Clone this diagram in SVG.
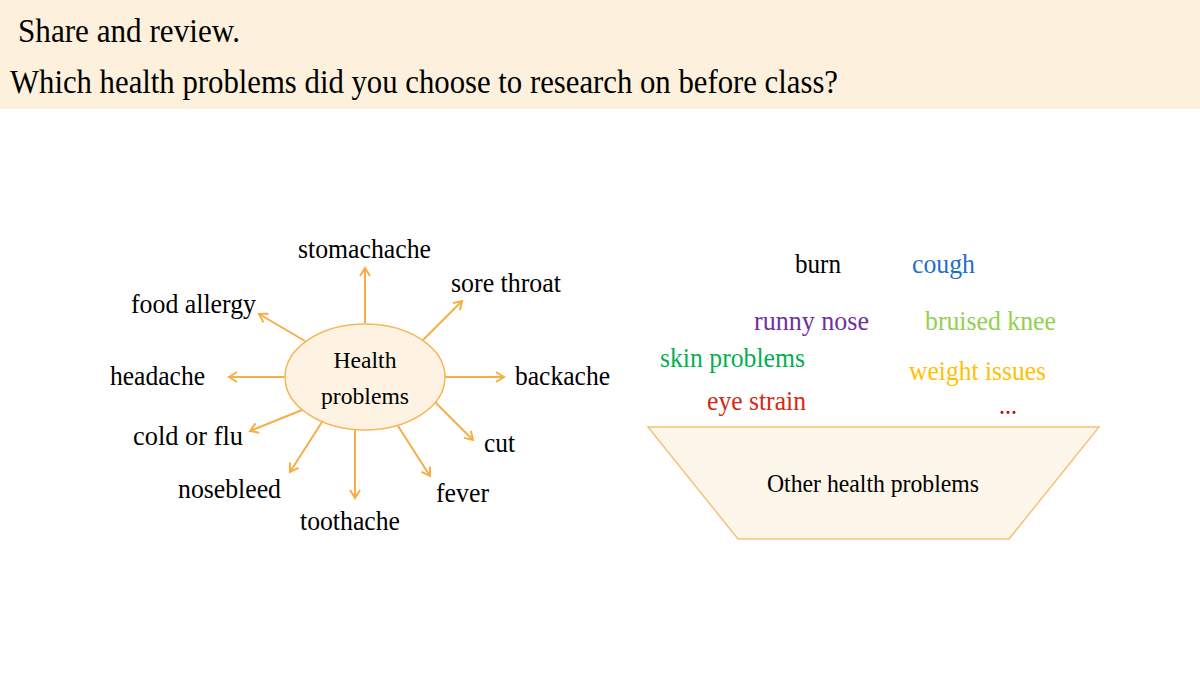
<svg xmlns="http://www.w3.org/2000/svg" width="1200" height="675" viewBox="0 0 1200 675">
<defs>
<style>
.t{font-family:"Liberation Serif","Times New Roman",serif;fill:#000}
.lbl{font-size:27px}
.c{stroke:#F6AE45;stroke-width:2;fill:none}
</style>
<marker id="ah" markerWidth="12" markerHeight="12" refX="10" refY="6" orient="auto" markerUnits="userSpaceOnUse">
<path d="M2,1 L10,6 L2,11" fill="none" stroke="#F6AE45" stroke-width="2"/>
</marker>
</defs>
<rect width="1200" height="675" fill="#fff"/>
<g id="header">
<rect x="0" y="0" width="1200" height="109" fill="#FDF0DC"/>
<text class="t" x="18" y="42" font-size="34" textLength="222" lengthAdjust="spacingAndGlyphs">Share and review.</text>
<text class="t" x="10" y="93" font-size="34" textLength="828" lengthAdjust="spacingAndGlyphs">Which health problems did you choose to research on before class?</text>
</g>
<g id="connectors">
<line class="c" x1="365" y1="323" x2="365" y2="268" marker-end="url(#ah)"/>
<line class="c" x1="423" y1="340" x2="462" y2="301" marker-end="url(#ah)"/>
<line class="c" x1="305" y1="341" x2="259" y2="314" marker-end="url(#ah)"/>
<line class="c" x1="285" y1="377" x2="229" y2="377" marker-end="url(#ah)"/>
<line class="c" x1="445" y1="377" x2="504" y2="377" marker-end="url(#ah)"/>
<line class="c" x1="302" y1="410" x2="250" y2="431" marker-end="url(#ah)"/>
<line class="c" x1="322" y1="422" x2="290" y2="472" marker-end="url(#ah)"/>
<line class="c" x1="355" y1="430" x2="355" y2="498" marker-end="url(#ah)"/>
<line class="c" x1="398" y1="426" x2="430" y2="476" marker-end="url(#ah)"/>
<line class="c" x1="435" y1="402" x2="473" y2="440" marker-end="url(#ah)"/>
</g>
<g id="center">
<ellipse cx="365" cy="377" rx="80" ry="53" fill="#FEF3E2" stroke="#F6B65A" stroke-width="1.5"/>
<text class="t" x="365" y="368" font-size="24" text-anchor="middle" textLength="63" lengthAdjust="spacingAndGlyphs">Health</text>
<text class="t" x="365" y="404" font-size="24" text-anchor="middle" textLength="88" lengthAdjust="spacingAndGlyphs">problems</text>
</g>
<g id="n-stomachache"><text class="t lbl" x="298" y="258" textLength="133" lengthAdjust="spacingAndGlyphs">stomachache</text></g>
<g id="n-sorethroat"><text class="t lbl" x="451" y="292" textLength="110" lengthAdjust="spacingAndGlyphs">sore throat</text></g>
<g id="n-foodallergy"><text class="t lbl" x="131" y="313" textLength="125" lengthAdjust="spacingAndGlyphs">food allergy</text></g>
<g id="n-headache"><text class="t lbl" x="110" y="385" textLength="95" lengthAdjust="spacingAndGlyphs">headache</text></g>
<g id="n-backache"><text class="t lbl" x="515" y="385" textLength="95" lengthAdjust="spacingAndGlyphs">backache</text></g>
<g id="n-coldorflu"><text class="t lbl" x="133" y="445" textLength="110" lengthAdjust="spacingAndGlyphs">cold or flu</text></g>
<g id="n-nosebleed"><text class="t lbl" x="178" y="498" textLength="103" lengthAdjust="spacingAndGlyphs">nosebleed</text></g>
<g id="n-toothache"><text class="t lbl" x="300" y="530" textLength="100" lengthAdjust="spacingAndGlyphs">toothache</text></g>
<g id="n-fever"><text class="t lbl" x="436" y="502" textLength="53" lengthAdjust="spacingAndGlyphs">fever</text></g>
<g id="n-cut"><text class="t lbl" x="484" y="452" textLength="31" lengthAdjust="spacingAndGlyphs">cut</text></g>
<g id="other">
<polygon points="648,427 1099,427 1009,539 738,539" fill="#FDF6EA" stroke="#F5C27A" stroke-width="1.5"/>
<text class="t" x="767" y="492" font-size="26" textLength="212" lengthAdjust="spacingAndGlyphs">Other health problems</text>
</g>
<g id="words">
<text class="t lbl" x="795" y="273" textLength="46" lengthAdjust="spacingAndGlyphs">burn</text>
<text class="t lbl" x="912" y="273" style="fill:#1E6FC8" textLength="63" lengthAdjust="spacingAndGlyphs">cough</text>
<text class="t lbl" x="754" y="330" style="fill:#7030A0" textLength="115" lengthAdjust="spacingAndGlyphs">runny nose</text>
<text class="t lbl" x="925" y="330" style="fill:#92D050" textLength="131" lengthAdjust="spacingAndGlyphs">bruised knee</text>
<text class="t lbl" x="660" y="367" style="fill:#00B050" textLength="145" lengthAdjust="spacingAndGlyphs">skin problems</text>
<text class="t lbl" x="909" y="380" style="fill:#FFC000" textLength="137" lengthAdjust="spacingAndGlyphs">weight issues</text>
<text class="t lbl" x="707" y="410" style="fill:#D42A14" textLength="99" lengthAdjust="spacingAndGlyphs">eye strain</text>
<text class="t lbl" x="999" y="414" style="fill:#C00000" textLength="18" lengthAdjust="spacingAndGlyphs">...</text>
</g>
</svg>
